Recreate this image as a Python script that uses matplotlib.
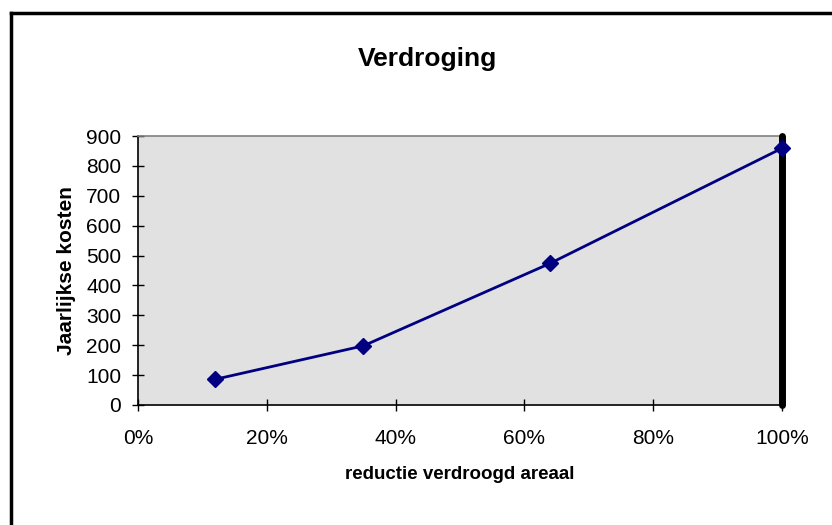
import matplotlib
matplotlib.use("Agg")
import matplotlib.pyplot as plt
from matplotlib.ticker import FuncFormatter

x_reduction = [0.12, 0.35, 0.64, 1.00]
y_costs = [86, 198, 474, 859]
title = "Verdroging"
xlabel = "reductie verdroogd areaal"
ylabel = "Jaarlijkse kosten"
ref_x = [1.0, 1.0]
ref_y = [0, 900]

plt.rcParams['font.family'] = ['Liberation Sans', 'DejaVu Sans']

fig = plt.figure(figsize=(8.32, 5.25), dpi=100)
W, H = 832, 525
ax = fig.add_axes([138 / W, 1 - 405 / H, (782 - 138) / W, (405 - 136) / H])
ax.set_facecolor('#E1E1E1')

ax.plot(ref_x, ref_y, color='black', lw=5, solid_capstyle='round', zorder=3, clip_on=False)
ax.plot(x_reduction, y_costs, color='#000080', lw=2, marker='D', markersize=8.5,
        markerfacecolor='#000080', markeredgecolor='#000080', zorder=4, clip_on=False)

ax.set_xlim(0, 1)
ax.set_ylim(0, 900)
ax.set_xticks([0, 0.2, 0.4, 0.6, 0.8, 1.0])
ax.set_yticks(range(0, 901, 100))
ax.xaxis.set_major_formatter(FuncFormatter(lambda v, p: f"{int(round(v * 100))}%"))
ax.tick_params(axis='both', direction='inout', length=8, width=1, colors='black',
               labelsize=15)
ax.tick_params(axis='x', pad=13)
ax.tick_params(axis='y', pad=8)

for s in ['left', 'bottom']:
    ax.spines[s].set_color('black')
    ax.spines[s].set_linewidth(1.2)
for s in ['top', 'right']:
    ax.spines[s].set_color('#808080')
    ax.spines[s].set_linewidth(1.2)

ax.set_xlabel(xlabel, fontsize=13.5, fontweight='bold', labelpad=13)
ax.set_ylabel(ylabel, fontsize=15, fontweight='bold', labelpad=7)
fig.text(427 / W, 1 - 59 / H, title, fontsize=19, fontweight='bold', ha='center', va='center')

# chart frame (top/left visible)
fig.add_artist(plt.Line2D([11 / W, 11 / W], [0, 1 - 13 / H], color='black', lw=2.5,
                          transform=fig.transFigure))
fig.add_artist(plt.Line2D([11 / W, 1], [1 - 13 / H, 1 - 13 / H], color='black', lw=2.5,
                          transform=fig.transFigure))

fig.savefig("out.png", dpi=100)
